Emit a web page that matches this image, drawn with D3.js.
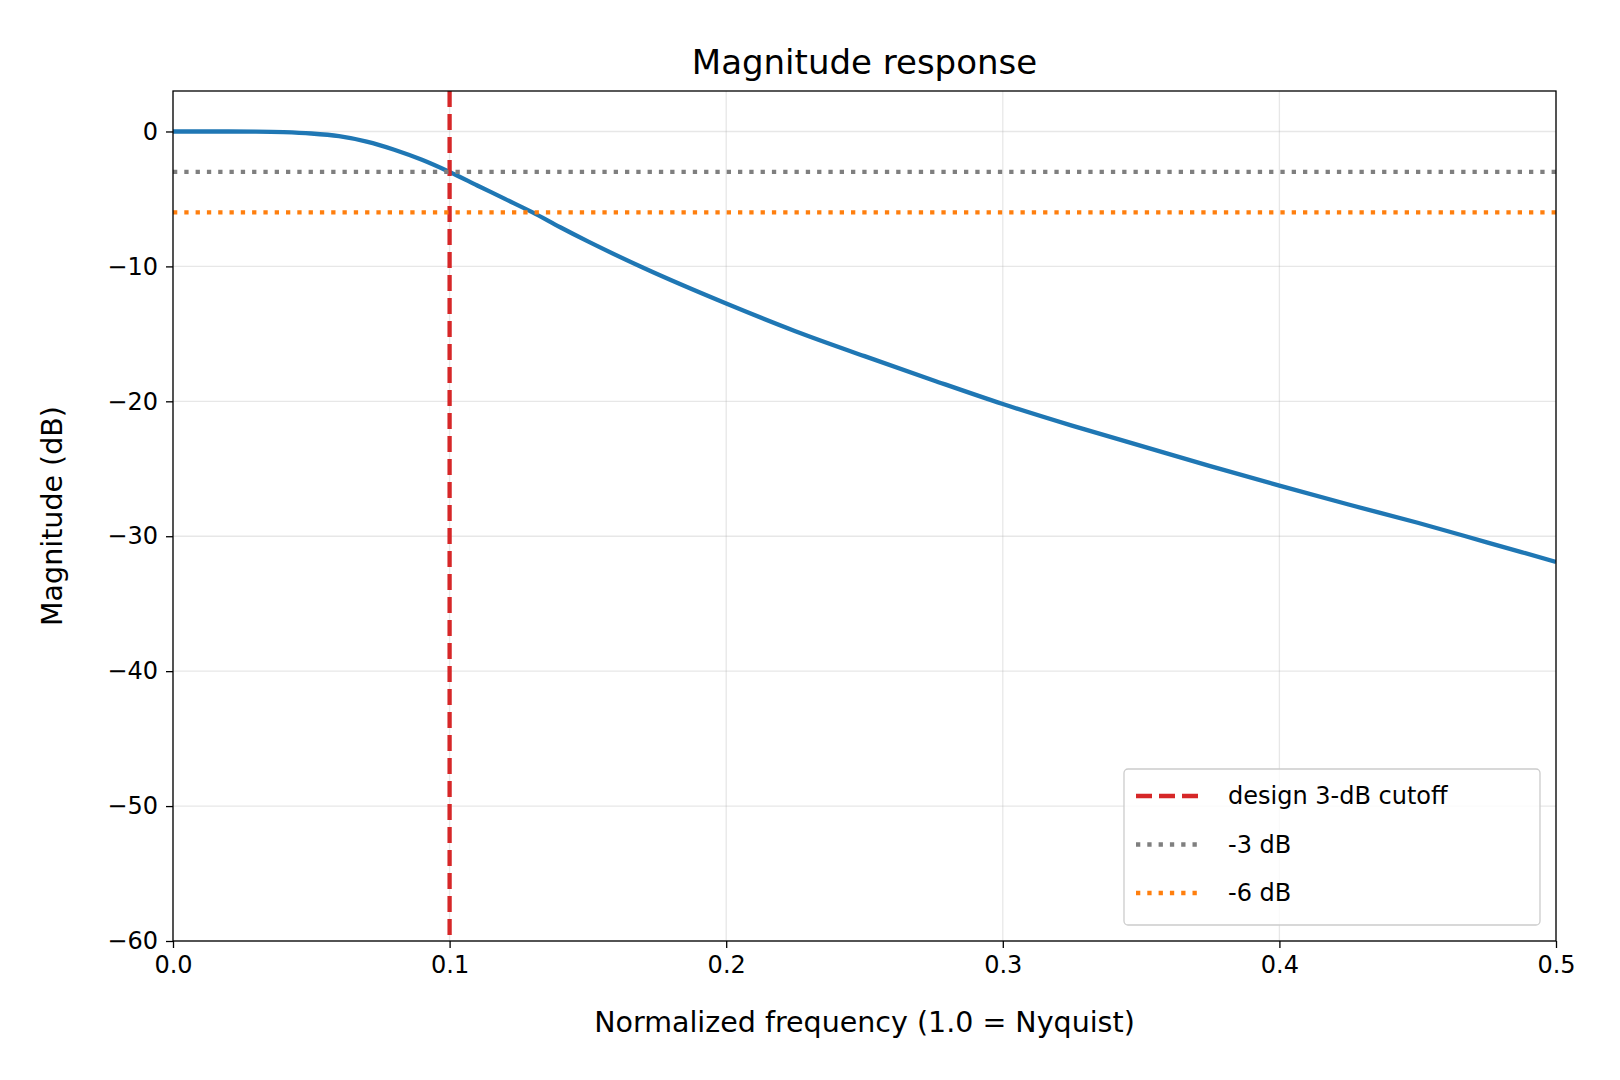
<!DOCTYPE html>
<html><head><meta charset="utf-8">
<script src="https://cdn.jsdelivr.net/npm/d3@7"></script>
<style>body{margin:0;background:#fff}text{font-family:"DejaVu Sans",sans-serif}</style>
</head><body><svg id="c" width="1620" height="1080"></svg>
<script>
const freq = [0,0.01,0.02,0.03,0.04,0.05,0.06,0.07,0.08,0.09,0.1,0.11,0.12,0.13,0.14,0.15,0.17,0.2,0.225,0.25,0.275,0.3,0.325,0.35,0.375,0.4,0.425,0.45,0.475,0.5];
const magDb = [0,0,0,-0.01,-0.05,-0.15,-0.35,-0.75,-1.35,-2.1,-3.0,-4.0,-5.0,-6.0,-7.1,-8.15,-10.1,-12.75,-14.8,-16.65,-18.45,-20.2,-21.8,-23.3,-24.8,-26.25,-27.65,-29.0,-30.45,-31.9];
const xTicks = [0,0.1,0.2,0.3,0.4,0.5];
const yTicks = [0,-10,-20,-30,-40,-50,-60];
const cutoff = 0.1;
const refLines = [{v:-3,label:"-3 dB",color:"#7f7f7f"},{v:-6,label:"-6 dB",color:"#ff7f0e"}];

const svg = d3.select("#c");
const L=173,R=1556,T=91,B=941;
const x=d3.scaleLinear().domain([0,0.5]).range([L,R]);
const y=d3.scaleLinear().domain([-60,3]).range([B,T]);
const g=svg.append("g");
xTicks.forEach(t=>g.append("line").attr("x1",x(t)).attr("x2",x(t)).attr("y1",T).attr("y2",B).attr("stroke","#b0b0b0").attr("stroke-opacity",0.3).attr("stroke-width",1.3));
yTicks.forEach(t=>g.append("line").attr("x1",L).attr("x2",R).attr("y1",y(t)).attr("y2",y(t)).attr("stroke","#b0b0b0").attr("stroke-opacity",0.3).attr("stroke-width",1.3));
svg.append("defs").append("clipPath").attr("id","clip").append("rect").attr("x",L).attr("y",T).attr("width",R-L).attr("height",B-T);
const p=svg.append("g").attr("clip-path","url(#clip)");
p.append("path").datum(freq.map((f,i)=>[f,magDb[i]])).attr("d",d3.line().x(d=>x(d[0])).y(d=>y(d[1])).curve(d3.curveMonotoneX)).attr("fill","none").attr("stroke","#1f77b4").attr("stroke-width",4.3);
p.append("line").attr("x1",x(cutoff)).attr("x2",x(cutoff)).attr("y1",T).attr("y2",B).attr("stroke","#d62728").attr("stroke-width",4.3).attr("stroke-dasharray","16,7");
refLines.forEach(r=>p.append("line").attr("x1",L).attr("x2",R).attr("y1",y(r.v)).attr("y2",y(r.v)).attr("stroke",r.color).attr("stroke-width",4.3).attr("stroke-dasharray","4.3,7"));
svg.append("g").attr("transform",`translate(0,${B})`).call(d3.axisBottom(x).tickValues(xTicks).tickFormat(d3.format(".1f")).tickSize(7).tickPadding(8))
 .call(a=>{a.select(".domain").remove();a.selectAll("text").attr("font-size",24).attr("fill","#000");a.selectAll("line").attr("stroke-width",1.3);});
svg.append("g").attr("transform",`translate(${L},0)`).call(d3.axisLeft(y).tickValues(yTicks).tickFormat(d=>d<0?"\u2212"+(-d):d).tickSize(7).tickPadding(8))
 .call(a=>{a.select(".domain").remove();a.selectAll("text").attr("font-size",24).attr("fill","#000");a.selectAll("line").attr("stroke-width",1.3);});
svg.append("rect").attr("x",L).attr("y",T).attr("width",R-L).attr("height",B-T).attr("fill","none").attr("stroke","#000").attr("stroke-width",1.3);
svg.append("text").attr("x",(L+R)/2).attr("y",74).attr("text-anchor","middle").attr("font-size",34).text("Magnitude response");
svg.append("text").attr("x",(L+R)/2).attr("y",1032).attr("text-anchor","middle").attr("font-size",28.5).text("Normalized frequency (1.0 = Nyquist)");
svg.append("text").attr("transform",`translate(62,${(T+B)/2}) rotate(-90)`).attr("text-anchor","middle").attr("font-size",28.5).text("Magnitude (dB)");
const lg=svg.append("g");
lg.append("rect").attr("x",1124).attr("y",769).attr("width",416).attr("height",156).attr("rx",4).attr("fill","#fff").attr("fill-opacity",0.8).attr("stroke","#ccc").attr("stroke-width",1.3);
const items=[{label:"design 3-dB cutoff",color:"#d62728",dash:"16,7"}].concat(refLines.map(r=>({label:r.label,color:r.color,dash:"4.3,7"})));
items.forEach((it,i)=>{const yy=796+i*48.5;
 lg.append("line").attr("x1",1136).attr("x2",1202).attr("y1",yy).attr("y2",yy).attr("stroke",it.color).attr("stroke-width",4.3).attr("stroke-dasharray",it.dash);
 lg.append("text").attr("x",1228).attr("y",yy+8).attr("font-size",24).text(it.label);});
</script></body></html>
